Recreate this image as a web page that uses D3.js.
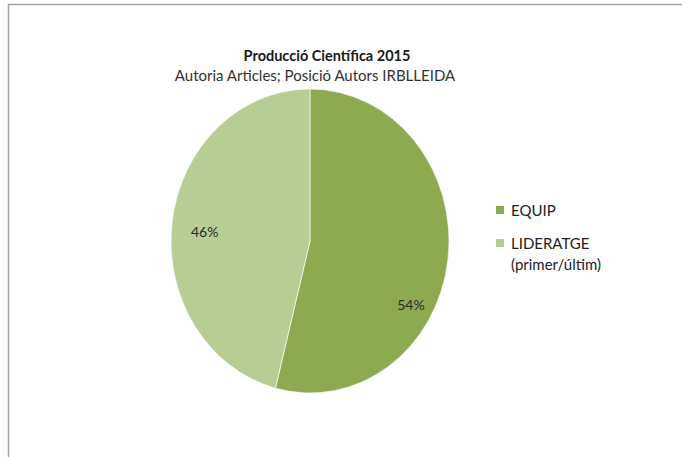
<!DOCTYPE html>
<html>
<head>
<meta charset="utf-8">
<script src="https://cdn.jsdelivr.net/npm/d3@7"></script>
<style>
  body { margin: 0; background: #fff; }
  text { font-family: Lato, "Open Sans", sans-serif; }
</style>
</head>
<body>
<svg class="chart"></svg>
<script>
// data
var categories = ["EQUIP", "LIDERATGE (primer/últim)"],
    values = [54, 46],
    legendLines = [["EQUIP"], ["LIDERATGE", "(primer/últim)"]],
    colors = ["#8eaa50", "#b7cd94"];

var width = 682, height = 457;

var svg = d3.select(".chart")
    .attr("width", width)
    .attr("height", height);

// frame of the chart area (runs off the right and bottom)
svg.append("rect")
    .attr("x", 8.5).attr("y", 4.5)
    .attr("width", 700).attr("height", 500)
    .attr("fill", "none")
    .attr("stroke", "#a3a3a3")
    .attr("stroke-width", 1.5);

// titles
svg.append("text")
    .attr("x", 327).attr("y", 61)
    .attr("text-anchor", "middle")
    .style("font-size", "14.5px")
    .style("font-weight", "bold")
    .attr("fill", "#1a1a1a")
    .text("Producció Científica 2015");

svg.append("text")
    .attr("x", 315).attr("y", 81)
    .attr("text-anchor", "middle")
    .style("font-size", "15px")
    .attr("fill", "#333")
    .text("Autoria Articles; Posició Autors IRBLLEIDA");

// pie (picture is slightly stretched vertically)
var rx = 139, ry = 152, cx = 310, cy = 241;

var pie = d3.pie().sort(null)(values);
var arc = d3.arc().innerRadius(0).outerRadius(rx);

var g = svg.append("g")
    .attr("transform", "translate(" + cx + "," + cy + ") scale(1," + (ry / rx) + ")");

g.selectAll("path")
    .data(pie)
  .enter().append("path")
    .attr("d", arc)
    .attr("fill", function(d, i) { return colors[i]; })
    .attr("stroke", "#fff")
    .attr("stroke-width", 0.6);

// percentage labels, nudged like Excel's best fit
var labelNudge = [{a: 0.40, r: 0.84}, {a: -0.05, r: 0.76}];
svg.selectAll(".pct")
    .data(pie)
  .enter().append("text")
    .attr("class", "pct")
    .attr("x", function(d, i) {
      var a = (d.startAngle + d.endAngle) / 2 + labelNudge[i].a;
      return cx + Math.sin(a) * rx * labelNudge[i].r;
    })
    .attr("y", function(d, i) {
      var a = (d.startAngle + d.endAngle) / 2 + labelNudge[i].a;
      return cy - Math.cos(a) * ry * labelNudge[i].r + 5;
    })
    .attr("text-anchor", "middle")
    .style("font-size", "14px")
    .attr("fill", "#2a2a2a")
    .text(function(d) { return d.data + "%"; });

// legend
var legend = svg.selectAll(".legend")
    .data(categories)
  .enter().append("g")
    .attr("class", "legend")
    .attr("transform", function(d, i) { return "translate(496," + (206 + i * 33) + ")"; });

legend.append("rect")
    .attr("width", 8).attr("height", 8)
    .attr("fill", function(d, i) { return colors[i]; });

legend.selectAll("text")
    .data(function(d, i) { return legendLines[i]; })
  .enter().append("text")
    .attr("x", 15)
    .attr("y", function(d, j) { return 10 + j * 21; })
    .style("font-size", "15px")
    .attr("fill", "#222")
    .text(function(d) { return d; });
</script>
</body>
</html>
